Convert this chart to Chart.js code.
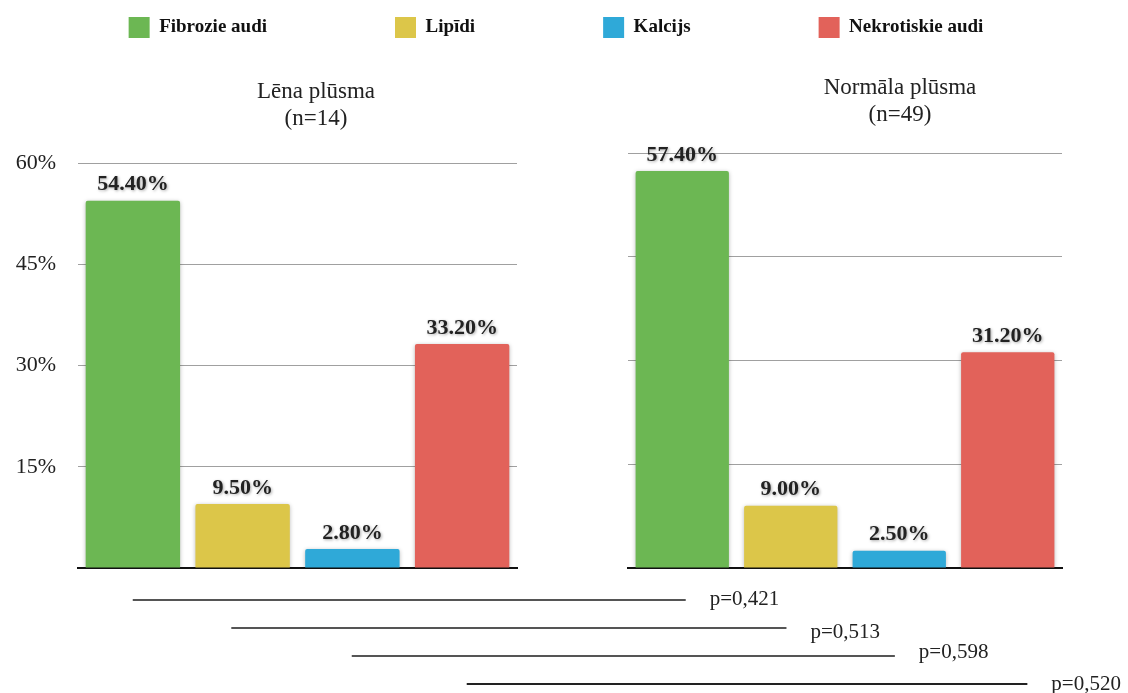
<!DOCTYPE html>
<html><head><meta charset="utf-8">
<script src="https://cdn.jsdelivr.net/npm/chart.js@4/dist/chart.umd.min.js"></script>
<style>
html,body{margin:0;padding:0;width:1128px;height:693px;overflow:hidden;background:#fff;}
.c{position:absolute;}
</style></head><body>
<div class="c" style="left:-108px;top:-111px;width:1328px;height:300px"><canvas id="leg"></canvas></div>
<div class="c" style="left:216px;top:70px;width:200px;height:80px"><canvas id="leftTitle"></canvas></div>
<div class="c" style="left:800px;top:66px;width:200px;height:80px"><canvas id="rightTitle"></canvas></div>
<div class="c" style="left:0;top:127px;width:632px;height:477px"><canvas id="left"></canvas></div>
<div class="c" style="left:600px;top:143px;width:600px;height:439px"><canvas id="right"></canvas></div>
<div class="c" style="left:0;top:586px;width:1128px;height:112px"><canvas id="pv"></canvas></div>
<script>
const categories = ['Fibrozie audi', 'Lipīdi', 'Kalcijs', 'Nekrotiskie audi'];
const slowFlow = [54.4, 9.5, 2.8, 33.2];
const normalFlow = [57.4, 9.0, 2.5, 31.2];
const slowTitle = ['Lēna plūsma', '(n=14)'];
const normalTitle = ['Normāla plūsma', '(n=49)'];
const yMax = 60;
const yStep = 15;
const pLabels = ['p=0,421', 'p=0,513', 'p=0,598', 'p=0,520'];
// comparison lines, in category-position units (left group 0..3, right group 5..8)
const pStart = [0, 0.9, 2, 3.05];
const pEnd = [5.05, 5.97, 6.96, 8.17];

const colors = ['#6cb753', '#dcc649', '#2fa9d8', '#e2625a'];
const SERIF = '"Liberation Serif", "Times New Roman", serif';
Chart.defaults.font.family = SERIF;
Chart.defaults.color = '#222';
Chart.defaults.animation = false;

const barShadow = {
  id: 'barShadow',
  beforeDatasetsDraw(chart) {
    const ctx = chart.ctx; ctx.save();
    ctx.shadowColor = 'rgba(0,0,0,0.28)'; ctx.shadowBlur = 4; ctx.shadowOffsetY = 1;
  },
  afterDatasetsDraw(chart) { chart.ctx.restore(); }
};
const barLabels = {
  id: 'barLabels',
  afterDatasetsDraw(chart) {
    const ctx = chart.ctx;
    const meta = chart.getDatasetMeta(0);
    const data = chart.data.datasets[0].data;
    ctx.save();
    ctx.font = 'bold 22px ' + SERIF;
    ctx.fillStyle = '#222';
    ctx.textAlign = 'center';
    ctx.textBaseline = 'middle';
    ctx.shadowColor = 'rgba(0,0,0,0.35)'; ctx.shadowBlur = 3; ctx.shadowOffsetX = 1; ctx.shadowOffsetY = 1;
    meta.data.forEach((bar, i) => {
      ctx.fillText(data[i].toFixed(2) + '%', bar.x, bar.y - 16);
    });
    ctx.restore();
  }
};

function titleChart(id, text) {
  return new Chart(document.getElementById(id), {
    type: 'bar',
    data: { labels: [], datasets: [] },
    options: {
      responsive: true, maintainAspectRatio: false,
      scales: { x: { display: false }, y: { display: false } },
      plugins: { legend: { display: false }, tooltip: { enabled: false },
        title: { display: true, text: text, color: '#222',
          font: { size: 23, weight: 'normal', lineHeight: 1.2 }, padding: { top: 8, bottom: 0 } } }
    }
  });
}
titleChart('leftTitle', slowTitle);
titleChart('rightTitle', normalTitle);

function panel(id, values, showTicks, axisWidth, padding) {
  return new Chart(document.getElementById(id), {
    type: 'bar',
    data: {
      labels: categories,
      datasets: [{ data: values, backgroundColor: colors, borderRadius: 2, borderSkipped: 'bottom',
        categoryPercentage: 1, barPercentage: 0.86 }]
    },
    options: {
      responsive: true, maintainAspectRatio: false,
      layout: { padding: padding },
      plugins: { legend: { display: false }, tooltip: { enabled: false } },
      scales: {
        x: { grid: { display: false, drawTicks: false }, ticks: { display: false },
             border: { display: true, color: '#111', width: 2 } },
        y: { min: 0, max: yMax,
             afterFit: s => { s.width = axisWidth; },
             ticks: { display: showTicks, stepSize: yStep, padding: 22, color: '#222',
                      font: { size: 22 }, callback: v => v === 0 ? '' : v + '%' },
             grid: { drawTicks: false, color: c => c.tick.value === 0 ? 'rgba(0,0,0,0)' : '#a0a0a0', lineWidth: 1 },
             border: { display: false } }
      }
    },
    plugins: [barShadow, barLabels]
  });
}

panel('left', slowFlow, true, 78, { left: 0, right: 115, top: 36, bottom: 36 });
panel('right', normalFlow, false, 28, { left: 0, right: 138, top: 10, bottom: 14 });

// Legend
new Chart(document.getElementById('leg'), {
  type: 'bar',
  data: { labels: [], datasets: categories.map((c, i) => ({ label: c, data: [], backgroundColor: colors[i], borderWidth: 0 })) },
  options: {
    responsive: true, maintainAspectRatio: false,
    scales: { x: { display: false }, y: { display: false } },
    plugins: { tooltip: { enabled: false },
      legend: { position: 'top', labels: { boxWidth: 21, boxHeight: 21, padding: 128, color: '#111',
        font: { size: 19, weight: 'bold' } } } }
  }
});

// p-value comparison lines
const pText = {
  id: 'pText',
  afterDatasetsDraw(chart, args, opts) {
    const ctx = chart.ctx;
    ctx.save();
    ctx.font = '21px ' + SERIF;
    ctx.fillStyle = '#222';
    ctx.textAlign = 'left';
    ctx.textBaseline = 'middle';
    chart.data.datasets.forEach((ds, i) => {
      const end = chart.getDatasetMeta(i).data[1];
      ctx.fillText(pLabels[i], end.x + opts.gap, end.y + opts.dy[i]);
    });
    ctx.restore();
  }
};
new Chart(document.getElementById('pv'), {
  type: 'scatter',
  data: { datasets: pLabels.map((p, i) => ({
    data: [{ x: pStart[i], y: i }, { x: pEnd[i], y: i }],
    showLine: true, borderColor: i === 3 ? '#222' : '#555', borderWidth: 2, pointRadius: 0 })) },
  options: {
    responsive: true, maintainAspectRatio: false,
    layout: { padding: { left: 78, right: 64.5, top: 0, bottom: 0 } },
    scales: { x: { type: 'linear', min: -0.5, max: 8.5, display: false },
              y: { type: 'linear', min: -0.5, max: 3.5, reverse: true, display: false } },
    plugins: { legend: { display: false }, tooltip: { enabled: false },
      pText: { gap: 24, dy: [-1, 4, -4, 0] } }
  },
  plugins: [pText]
});
</script>
</body></html>
